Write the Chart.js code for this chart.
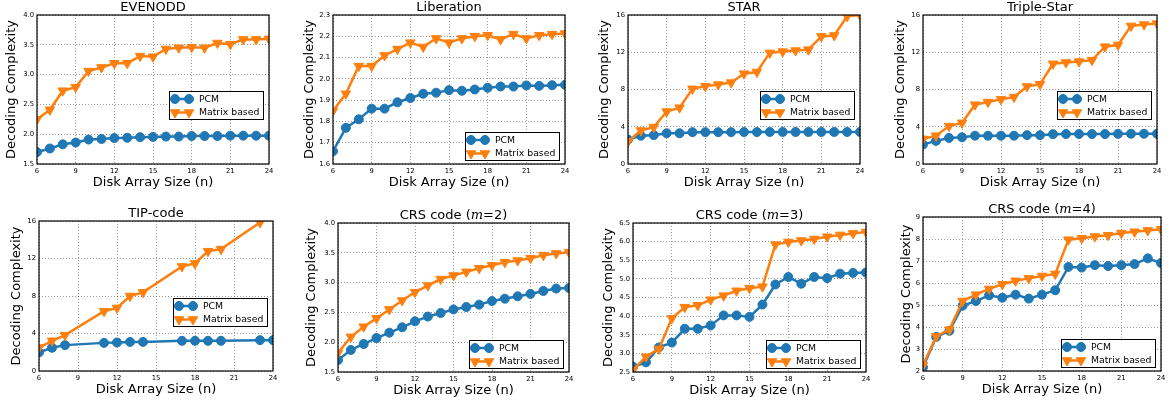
<!DOCTYPE html>
<html>
<head>
<meta charset="utf-8">
<script src="https://cdn.jsdelivr.net/npm/chart.js@4.4.0/dist/chart.umd.min.js"></script>
<style>
body{margin:0;background:#fff;}
#wrap{position:relative;width:1169px;height:404px;overflow:hidden;background:#fff;}
#wrap canvas{position:absolute;}
</style>
</head>
<body>
<div id="wrap"></div>
<script>
// x values (disk array size n)
const diskSizes = [6,7,8,9,10,11,12,13,14,15,16,17,18,19,20,21,22,23,24];
const tipPcmSizes = [6,7,8,11,12,13,14,17,18,19,20,23,24];
const tipMatrixSizes = [6,7,8,11,12,13,14,17,18,19,20,23];

const evenoddPcm = [1.70,1.76,1.83,1.86,1.91,1.92,1.935,1.94,1.95,1.955,1.96,1.96,1.97,1.97,1.97,1.975,1.975,1.975,1.975];
const evenoddMatrix = [2.25,2.41,2.73,2.79,3.06,3.12,3.19,3.19,3.31,3.30,3.43,3.45,3.46,3.45,3.53,3.51,3.59,3.59,3.60];

const liberationPcm = [1.66,1.77,1.81,1.86,1.86,1.89,1.91,1.93,1.935,1.947,1.944,1.95,1.958,1.964,1.964,1.969,1.967,1.97,1.972];
const liberationMatrix = [1.85,1.93,2.06,2.06,2.11,2.14,2.17,2.15,2.19,2.17,2.19,2.20,2.205,2.185,2.21,2.19,2.205,2.21,2.213];

const starPcm = [2.62,3.04,3.10,3.30,3.30,3.42,3.42,3.42,3.42,3.43,3.43,3.44,3.44,3.44,3.44,3.44,3.44,3.44,3.44];
const starMatrix = [2.40,3.60,3.96,5.63,6.05,8.07,8.35,8.53,8.74,9.70,9.88,11.93,12.07,12.18,12.28,13.70,13.80,15.86,16.0];

const tripleStarPcm = [2.09,2.48,2.80,2.87,3.04,3.04,3.04,3.04,3.10,3.10,3.20,3.22,3.22,3.22,3.22,3.24,3.25,3.25,3.25];
const tripleStarMatrix = [2.69,3.04,4.07,4.42,6.37,6.65,6.94,7.19,8.32,8.57,10.76,10.90,11.00,11.15,12.60,12.78,14.83,14.97,15.08];

const tipPcm = [1.98,2.48,2.76,3.00,3.04,3.10,3.10,3.22,3.22,3.22,3.22,3.29,3.29];
const tipMatrix = [2.50,3.22,3.82,6.37,6.73,8.00,8.39,11.15,11.47,12.78,13.00,15.85];

const crs2Pcm = [1.70,1.87,1.97,2.07,2.16,2.25,2.35,2.43,2.49,2.55,2.59,2.63,2.69,2.73,2.77,2.81,2.86,2.90,2.91];
const crs2Matrix = [1.82,2.09,2.26,2.40,2.55,2.70,2.84,2.95,3.06,3.12,3.18,3.24,3.29,3.34,3.37,3.41,3.46,3.49,3.51];

const crs3Pcm = [2.64,2.76,3.16,3.29,3.66,3.66,3.75,4.02,4.02,3.98,4.31,4.85,5.05,4.87,5.05,5.02,5.14,5.16,5.17];
const crs3Matrix = [2.55,2.91,3.12,3.94,4.24,4.29,4.44,4.55,4.68,4.75,4.79,5.92,5.99,6.03,6.07,6.13,6.18,6.22,6.26];

const crs4Pcm = [2.17,3.55,3.83,4.97,5.18,5.44,5.33,5.47,5.29,5.47,5.67,6.73,6.70,6.81,6.77,6.81,6.86,7.12,6.91];
const crs4Matrix = [2.26,3.58,3.88,5.18,5.47,5.73,5.94,6.10,6.21,6.32,6.41,7.97,8.03,8.11,8.17,8.27,8.33,8.39,8.44];

const titles = ['EVENODD','Liberation','STAR','Triple-Star','TIP-code','CRS code (m=2)','CRS code (m=3)','CRS code (m=4)'];
const seriesLabels = ['PCM','Matrix based'];
const xLabel = 'Disk Array Size (n)';
const yLabel = 'Decoding Complexity';
// y axis [min, max, step]
const yRanges = [[1.5,4.0,0.5],[1.6,2.3,0.1],[0,16,4],[0,16,4],[0,16,4],[1.5,4.0,0.5],[2.5,6.5,0.5],[2,9,1]];
const xRange = [6,24,3];

// layout: plot boxes [left, top, right, bottom] on the page
const plotBoxes = [
  [37,15,269,164],[333,15,565,164],[628,15,860,164],[923,15,1157,164],
  [39,221,273,371],[338,223,569,372],[633,223,866,372],[923,217,1161,371]
];
const yLabelGap = [25,23,23,22,22,26,24,16];
const legendPlace = ['center','lower','center','center','center','lower','lower','lower'];

const FONT = '"DejaVu Sans", sans-serif';
const BLUE = '#1f77b4', ORANGE = '#ff7f0e';

const framePlugin = {
  id: 'frame',
  afterDatasetsDraw(chart) {
    const a = chart.chartArea, ctx = chart.ctx;
    ctx.save();
    ctx.strokeStyle = '#000';
    ctx.lineWidth = 1.2;
    ctx.strokeRect(a.left, a.top, a.right - a.left, a.bottom - a.top);
    ctx.restore();
  }
};

const legendPlugin = {
  id: 'legendBox',
  afterDatasetsDraw(chart, args, opts) {
    const ctx = chart.ctx, a = chart.chartArea;
    const ds = chart.data.datasets;
    ctx.save();
    ctx.font = '9.3px ' + FONT;
    const tw = Math.max(...ds.map(d => ctx.measureText(d.label).width));
    const bw = Math.round(30 + tw + 4), bh = 28;
    const x0 = Math.round(a.right - 6 - bw);
    const y0 = Math.round(opts.place === 'lower' ? a.bottom - 4 - bh : a.top + 0.51 * (a.bottom - a.top));
    ctx.fillStyle = '#fff';
    ctx.strokeStyle = '#000';
    ctx.lineWidth = 1;
    ctx.fillRect(x0, y0, bw, bh);
    ctx.strokeRect(x0 + 0.5, y0 + 0.5, bw, bh);
    ds.forEach((d, k) => {
      const yy = y0 + 8 + k * 13.5;
      ctx.strokeStyle = d.borderColor;
      ctx.lineWidth = d.borderWidth;
      ctx.beginPath();
      ctx.moveTo(x0 + 6, yy);
      ctx.lineTo(x0 + 20, yy);
      ctx.stroke();
      ctx.fillStyle = d.backgroundColor;
      ctx.lineWidth = 1;
      [x0 + 6, x0 + 20].forEach(px => {
        Chart.helpers.drawPoint(ctx, {pointStyle: d.pointStyle, rotation: d.rotation || 0, radius: d.pointRadius, borderWidth: 1}, px, yy);
      });
      ctx.fillStyle = '#000';
      ctx.textBaseline = 'middle';
      ctx.textAlign = 'left';
      ctx.fillText(d.label, x0 + 30, yy + 0.5);
    });
    ctx.restore();
  }
};

const titlePlugin = {
  id: 'plotTitle',
  afterDraw(chart, args, opts) {
    const ctx = chart.ctx, a = chart.chartArea;
    const cx = (a.left + a.right) / 2, cy = a.top - 7.5;
    const normal = '13px ' + FONT;
    const italic = 'italic 13px "DejaVu Serif", serif';
    const m = opts.text.match(/^(.*\()(m)(=\d\))$/);
    const parts = m ? [[m[1], normal], [m[2], italic], [m[3], normal]] : [[opts.text, normal]];
    ctx.save();
    ctx.fillStyle = '#000';
    ctx.textBaseline = 'middle';
    ctx.textAlign = 'left';
    let total = 0;
    parts.forEach(p => { ctx.font = p[1]; total += ctx.measureText(p[0]).width; });
    let x = cx - total / 2;
    parts.forEach(p => { ctx.font = p[1]; ctx.fillText(p[0], x, cy); x += ctx.measureText(p[0]).width; });
    ctx.restore();
  }
};

function makeChart(i, pcmX, pcmY, matX, matY) {
  const [l, t, r, b] = plotBoxes[i];
  const yw = Math.round(yLabelGap[i] + 8);
  const padTop = 16, padRight = 10, xh = 26;
  const w = r - l + yw + padRight, h = b - t + padTop + xh;
  const cv = document.createElement('canvas');
  cv.width = w; cv.height = h;
  cv.style.left = (l - yw) + 'px';
  cv.style.top = (t - padTop) + 'px';
  document.getElementById('wrap').appendChild(cv);
  const [ymin, ymax, ystep] = yRanges[i];
  const dec = ystep < 1 ? 1 : 0;

  new Chart(cv.getContext('2d'), {
    type: 'line',
    data: {
      datasets: [{
        label: seriesLabels[0],
        data: pcmX.map((x, k) => ({x: x, y: pcmY[k]})),
        borderColor: BLUE, backgroundColor: BLUE,
        borderWidth: 2.5, tension: 0,
        pointStyle: 'circle', pointRadius: 4.5, pointHoverRadius: 4.5, pointBorderWidth: 1,
        order: 1
      }, {
        label: seriesLabels[1],
        data: matX.map((x, k) => ({x: x, y: matY[k]})),
        borderColor: ORANGE, backgroundColor: ORANGE,
        borderWidth: 2.5, tension: 0,
        pointStyle: 'triangle', rotation: 180, pointRadius: 5.5, pointHoverRadius: 5.5, pointBorderWidth: 1,
        order: 0
      }]
    },
    options: {
      responsive: false,
      animation: false,
      devicePixelRatio: 1,
      layout: {padding: {top: padTop, right: padRight, left: 0, bottom: 0}},
      plugins: {
        legend: {display: false},
        tooltip: {enabled: false},
        legendBox: {place: legendPlace[i]},
        plotTitle: {text: titles[i]}
      },
      scales: {
        x: {
          type: 'linear', min: xRange[0], max: xRange[1],
          grid: {color: 'rgba(0,0,0,0.5)', lineWidth: 0.8, drawTicks: false},
          border: {display: false, dash: [1, 2]},
          ticks: {stepSize: xRange[2], padding: 3, maxRotation: 0, color: '#000', font: {family: FONT, size: 6.8}},
          title: {display: true, text: xLabel, color: '#000', padding: 0, font: {family: FONT, size: 13}},
          afterFit(s) { s.height = xh; }
        },
        y: {
          min: ymin, max: ymax,
          grid: {color: 'rgba(0,0,0,0.5)', lineWidth: 0.8, drawTicks: false},
          border: {display: false, dash: [1, 2]},
          ticks: {stepSize: ystep, padding: 3, color: '#000', font: {family: FONT, size: 6.8},
            callback: v => Number(v).toFixed(dec)},
          title: {display: true, text: yLabel, color: '#000', padding: 0, font: {family: FONT, size: 13}},
          afterFit(s) { s.width = yw; }
        }
      }
    },
    plugins: [framePlugin, legendPlugin, titlePlugin]
  });
}

makeChart(0, diskSizes, evenoddPcm, diskSizes, evenoddMatrix);
makeChart(1, diskSizes, liberationPcm, diskSizes, liberationMatrix);
makeChart(2, diskSizes, starPcm, diskSizes, starMatrix);
makeChart(3, diskSizes, tripleStarPcm, diskSizes, tripleStarMatrix);
makeChart(4, tipPcmSizes, tipPcm, tipMatrixSizes, tipMatrix);
makeChart(5, diskSizes, crs2Pcm, diskSizes, crs2Matrix);
makeChart(6, diskSizes, crs3Pcm, diskSizes, crs3Matrix);
makeChart(7, diskSizes, crs4Pcm, diskSizes, crs4Matrix);
</script>
</body>
</html>
